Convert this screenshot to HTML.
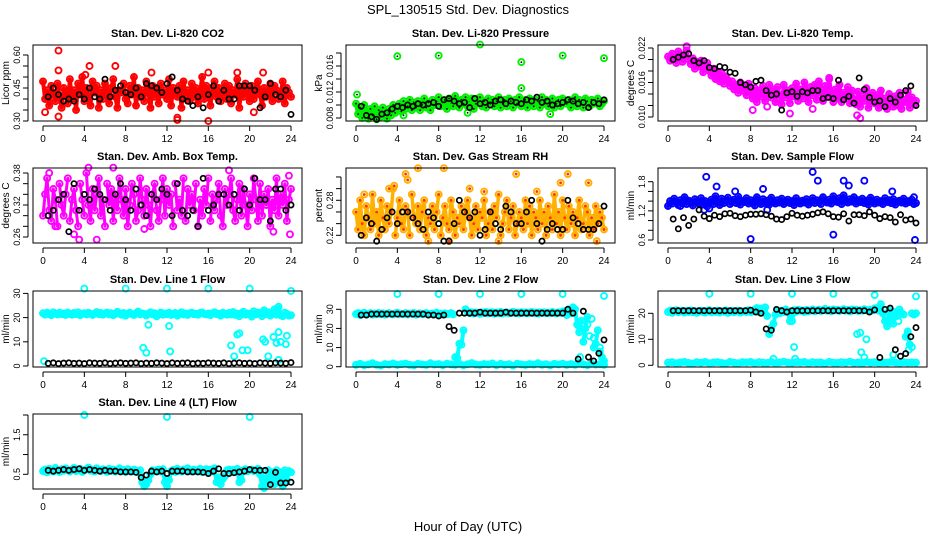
<!DOCTYPE html>
<html><head><meta charset="utf-8"><style>
html,body{margin:0;padding:0;background:#fff;}
svg{display:block;font-family:"Liberation Sans",sans-serif;}
</style></head><body>
<svg id="chart" width="936" height="540" viewBox="0 0 936 540" xmlns="http://www.w3.org/2000/svg">
<rect width="936" height="540" fill="#fff"/>
<text x="468" y="14" text-anchor="middle" font-size="13">SPL_130515  Std. Dev. Diagnostics</text>
<text x="468" y="531" text-anchor="middle" font-size="13">Hour of Day (UTC)</text>
</svg>
<script>
// ---------- data ----------
const xTicks = [0,4,8,12,16,20,24];

const co2Red = [48,40,44,37,46,42,39,47,41,36,45,43,38,49,40,44,35,47,42,50,39,45,41,37,48,43,46,36,44,40,47,42,38,45,49,41,36,44,43,47,40,38,46,42,50,37,45,41,44,39,48,43,36,46,41,45,38,47,42,44,40,49,37,45,43,41,46,36,48,42,44,39,47,41,45,38,43,50,40,46,42,37,44,48,41,45,39,43,47,40,46,38,44,42,49,36,45,41,47,43,39,46,40,44,48,42,37,45,41,43,47,39,46,44,40,42,48,38,45,43,41];
const co2RedExtraX = [1.5,1.5,4.5,0.2,1.5,13,13,16,21.3,18.8,16,7,4.1,10.5,20.4];
const co2RedExtraY = [62,53,55,34,32,30.5,31.5,30,52,52,52,55,51,52,34];
const co2Black = [41,45,42,39,40,39,42,40,45,41,40,49,41,44,46,43,42,45,41,47,46,45,43,47,50,44,40,39,37,41,36,42,46,39,44,40,40,46,46,46,44,36,41,47,42,41,44,33];

const presGreen = [10.2,8.6,9.6,8,10,8.8,7.9,9.4,8.4,9.8,7.8,9.2,8.2,9.6,8.6,7.9,9.4,8.4,10,8.8,9.4,10.2,9,10.6,9.4,9.8,10.8,9.2,10.4,9.6,10.6,9.2,10,11,9.6,10.4,9.2,10.8,10,10.6,11.2,9.8,10.4,10.8,9.4,11,10.2,9.8,11.4,10.6,9.6,10.8,10.2,11.2,9.8,10.6,11,9.4,10.2,10.8,11.2,9.8,10.6,9.6,11,10.2,10.8,9.8,10.6,11.2,9.6,10.2,10.8,9.8,11,10.6,9.6,10.8,10.2,11.2,9.8,10.6,10.8,9.6,11,10.2,9.8,10.8,10.6,9.6,11.2,10.2,10.8,9.8,10.6,11,9.6,10.2,10.8,9.8,11,10.6,10.2,10.8,9.6,10.6,11.2,9.8,10.8,10.2,9.6,11,10.6,9.8,10.8,10.2,10.6,11,9.8,10.2,10.6];
const presGreenExtraX = [4,8,12,16,20,24,0.1,16,4.6,10.8,18.8];
const presGreenExtraY = [17.5,17.6,19.3,16.6,17.6,17.2,11.6,12.6,8.4,8.8,8.6];
const presBlack = [9.8,8.4,8.2,7.8,8.6,8.8,9.4,9.8,9.6,10,9.8,10.2,10,10.2,10.4,9.8,10.8,11,10.6,10.2,10.4,9.6,11,10.2,10.4,10,10.6,10.8,10.2,10.6,10.4,10.2,10.8,10.6,11.2,10.4,10.6,10,10.2,10.4,10.8,10.6,10.2,10.4,9.6,10.4,10.2,10.8];

const tempMag = [20.5,19.8,21,20.2,19.4,21.4,20.6,19.6,20.8,21.6,20,19.2,20.2,18.4,19.6,18.8,19.8,17.8,18.6,19.4,18,17.2,18.4,16.6,17.8,16.2,17.6,15.8,17,16.4,15.4,16.2,14.8,15.6,14.2,16,14.6,15.2,13.8,15.8,14.4,13.2,15,12.6,14.6,13.6,15.4,12.8,14.2,15.6,13.4,14.8,12.6,15.2,13.8,12.2,15.6,13.4,14.6,12.4,15,13.6,15.8,12.8,14.8,13.2,16,14.2,12.6,15.2,13.8,15.6,13,16.2,14.2,12.8,15.4,13.6,16.6,14,12.6,14.8,13.2,15.6,12.6,14.2,13.6,15.2,12.4,14.6,13,12.2,14.4,11.8,13.6,12.8,15,11.6,13.2,14.2,12.4,13.8,11.6,14.6,12.4,13.2,11.4,14,12.8,11.8,13.6,12,14.2,11.4,13,12.6,14.4,11.6,13.4,12.2,12.8];
const tempMagExtraX = [1.8,15.6,18.3,18.6,8.2,9.6,14,11.8];
const tempMagExtraY = [22.3,16.8,10.3,9.8,11.2,11.8,11.4,10.6];
const tempBlack = [20,20.4,20.8,21,19.8,19.4,19.8,18.6,18.4,18.8,18.6,17.8,17.6,16,15.6,15.2,16.2,16.4,14.6,13.8,14,11.2,14.2,14.4,13.6,14.4,14.2,14.6,14.6,13.2,13.4,13.2,16.4,13,13.6,12.4,16.8,14.8,13.4,12.6,12.8,11.8,13.2,12.6,13.8,14.6,15.4,12];

const ambMag = [30,34,37,31,29,35,33,28,36,32,30,34,37,29,33,35,31,28,36,33,30,38,32,29,35,31,34,37,30,33,28,36,32,35,29,34,31,37,33,30,35,28,32,36,34,29,31,37,33,30,35,32,28,34,36,31,29,33,37,30,35,32,34,28,36,31,33,30,37,29,35,32,34,31,36,28,33,30,35,32,37,29,34,31,33,36,30,28,35,32,34,37,31,29,33,36,30,35,32,28,34,31,37,33,29,36,30,34,32,35,28,33,31,37,30,34,32,36,29,33,35];
const ambMagExtraX = [0.6,3,3.5,4.4,6.8,5.2,18,23.8,23.9,22.3,1.2,9.8];
const ambMagExtraY = [38,26.5,25.5,39,39,25.5,38.5,37.5,26.5,27,28,27.5];
const ambBlack = [30,31,33,34,27,36,31,34,33,35,34,33,31,34,36,33,31,35,32,30,34,33,35,34,30,36,31,30,31,28,37,31,32,34,34,32,34,31,35,32,37,33,33,29,35,35,31,32];

const rhOrange = [26,23,28,24,22,27,25,23,29,24,26,22,28,25,23,27,24,26,30,22,25,28,24,23,27,26,22,29,25,24,27,23,26,28,22,25,24,27,23,26,29,22,25,27,24,23,28,26,22,25,24,27,23,26,28,25,22,24,27,23,26,25,28,22,24,26,23,27,25,29,22,24,26,28,23,25,27,22,24,26,25,23,28,24,27,22,26,25,23,28,24,26,22,27,25,23,29,24,26,22,28,25,23,27,24,26,22,25,28,23,24,27,26,22,25,23,27,24,26,25,23];
const rhOrangeExtraX = [0.8,3.7,4.8,5,6,8.5,11,12.4,15.5,20.5,22.5,19.8,7,9,13.8,23.3,3.2,17.5];
const rhOrangeExtraY = [29,30.5,32.5,31.5,33.5,33.5,30,29.5,32.5,32.5,31,31,21,21,21,21,30,29.5];
const rhBlack = [22,25,24,21,23,25,26,24,26,26,25,24,23,26,25,24,21,21,24,28,26,25,26,22,23,26,24,23,27,26,24,24,26,28,24,21,23,24,23,23,28,25,24,23,23,23,24,27];

const flowBlue = [130,140,135,145,138,132,142,136,148,134,141,137,131,144,139,135,146,133,140,129,137,143,134,150,138,132,145,136,141,147,134,139,143,136,149,133,140,138,146,135,142,137,131,148,139,134,144,136,141,133,147,138,135,142,137,145,134,139,143,136,140,132,146,138,135,141,137,144,133,139,146,136,142,138,134,148,140,137,143,135,150,141,138,146,134,152,140,137,144,139,148,135,142,138,145,136,141,133,147,139,135,143,137,140,134,146,138,142,136,144,133,139,141,137,145,135,140,138,143,134,136];
const flowBlueExtraX = [3.7,4.7,6.5,8,9.2,14,14.5,16,17,17.5,19,21.7,23.9,3.5,4,1.2,9.6,23.8];
const flowBlueExtraY = [190,170,160,62,165,200,182,71,182,172,182,160,60,122,125,130,122,148];
const flowBlack = [103,83,106,90,103,122,109,104,111,108,114,115,110,108,111,113,113,114,112,109,103,102,108,115,111,109,111,113,116,118,114,108,107,114,99,112,112,110,118,111,104,108,106,97,112,101,103,95];

const line1Cyan = [21.8,21.2,22,21.5,21,22.2,21.6,21.3,22,21.4,21.7,21.1,22.1,21.5,21.2,21.9,21.4,22.2,21,21.6,21.8,21.3,22,21.5,21.1,21.7,22.3,21.4,21.9,21.2,21.6,22.1,21.3,21.8,21,21.5,22.4,21.7,21.2,21.9,20.8,21.6,22,21.4,21.1,21.8,22.5,21.3,21.7,21.5,20.9,21.6,22.2,21.3,21.8,20.5,21.5,22.1,21.2,21.7,21.4,22,21.1,21.6,21.9,20.8,21.5,22.2,21.3,21.7,21.1,21.8,22,21.4,21.6,21.2,21.9,22.1,21.5,21.3,21.7,21,21.8,22.2,21.4,21.6,20.8,22,21.5,21.2,21.9,21.3,22.3,21.1,21.6,20.6,21.8,22.4,21.2,21.7,21.5,20.4,22.6,21.3,22,21.8,20.6,23,21.4,22.2,20.8,21.6,23.4,21.2,24.5,21,20.6,22,21.5,20.8,21];
const line1CyanExtraX = [4,8,12,16,20,24,9.7,10,10.2,12.2,12.3,18.2,18.8,19,19.3,19.8,21.3,21.5,22.3,22.6,22.8,23,23.5,23.6,0.1,18.5,21.8,22.8];
const line1CyanExtraY = [32,32,32,32,32,31,7.5,5.5,17,16.5,6,8.5,13,13.5,6.5,6.5,11,10,12,9.5,14,10,9,12.5,2,4,4,2.5];
const line1Black = [1.1,1.3,1,1.2,1.3,1.1,1.2,1,1.3,1.2,1.1,1.3,1,1.2,1.3,1.1,1.2,1.3,1,1.2,1.1,1.3,1.2,1,1.3,1.1,1.2,1.3,1,1.2,1.1,1.3,1.2,1.1,1.3,1,1.2,1.3,1.1,1.2,1,1.3,1.2,1.1,1.3,1.2,1.1,1.4];

const line2Cyan = [27.5,28,27,27.8,28.2,27.3,27.6,28,27.2,27.8,27.5,28.1,27.4,27.9,27.2,27.7,28,27.5,27.3,27.9,28.2,27.4,27.7,27.5,28,27.3,27.8,27.6,28.1,27.2,27.5,27.9,27.4,27.7,28,27.3,27.6,27.8,27.5,28.2,27.4,27.7,27.3,27.9,27.5,27.6,28,27.4,5,4.5,12,11.5,19,30,28.5,28,28.5,27.8,28.3,28.1,27.6,28.4,28,28.6,27.9,28.2,28.5,27.7,28.3,28,28.6,27.8,28.1,28.4,27.9,28.2,28.7,28,28.3,27.8,28.5,28.1,28.4,27.9,28.2,28.6,28,28.3,27.7,28.5,28.1,28.4,27.9,28.2,28,28.6,28.3,27.8,28.4,28.1,28.9,29,27,30,28,31,30,22,18,24,13,20,26,16,25,10,12,19,8,5,3];
const line2CyanLow = [1,1.5,0.8,1.2,1.8,1,0.6,1.4,1.1,1.7,0.9,1.3,1.6,1,0.7,1.5,1.2,0.9,1.8,1.1,1.4,0.8,1.6,1.2,1,1.5,0.7,1.3,1.9,1.1,0.9,1.4,1.2,1.7,0.8,1.5,1,1.3,0.6,1.6,1.2,0.9,1.4,1.1,1.8,1,1.3,0.7,1.5,1.2,1.6,0.9,1.4,1,1.7,1.2,0.8,1.5,1.1,1.3,1];
const line2CyanExtraX = [4,8,12,16,20,24,21.7,23,22.4,23.6];
const line2CyanExtraY = [38,38,38,38,38,37,5,15,22,10];
const line2Black = [27,27,27.5,27.5,27.5,27.5,27.5,27.5,27.5,27.5,27.5,27.5,27.5,27,27,26.5,27,21,19,28,28,28,28,28.5,28,28,28,28,28.5,28,28,28,28,28,28,28,28,28,28,28,30,28,4,29,5,3,7,14];

const line3Cyan = [20.5,21,20.2,20.8,21.2,20.4,20.7,21,20.3,20.9,20.5,21.1,20.4,20.8,20.2,20.7,21,20.5,20.3,20.9,21.2,20.4,20.7,20.5,21,20.3,20.8,20.6,21.1,20.2,20.5,20.9,20.4,20.7,21,20.3,20.6,20.8,20.5,21.2,20.4,20.7,21.5,22,20.5,21.8,20.6,22.3,19,12,14.5,16,19.5,21,20,21,20.5,21.5,20.8,17,19.5,21.2,20.6,21.4,20.9,21.1,20.5,21.3,20.7,21,21.5,20.8,21.1,21.4,20.9,21.2,21.7,21,21.3,20.8,21.5,21.1,21.4,20.9,21.2,21.6,21,21.3,20.7,21.5,21.1,21.4,20.9,21.2,21,21.6,21.3,20.8,21.4,21.1,21.9,22,21,23.5,20,17,15,21,18,16,20.5,19,21.5,20,19.5,11,13,8,20,19.5,20];
const line3CyanLow = [1,1.2,0.8,1.1,1.3,0.9,0.7,1.2,1,1.3,0.8,1.1,1.2,0.9,0.7,1.3,1,0.8,1.2,1.1,1.3,0.8,1.2,1,0.9,1.3,0.7,1.1,1.4,1,0.9,1.2,1.1,1.3,0.8,1.2,1,1.1,0.7,1.3,1,0.9,1.2,1,1.4,0.9,1.1,0.7,1.3,1,1.2,0.9,1.1,1,1.3,1.1,0.8,1.2,1,1.1,1];
const line3CyanExtraX = [4,8,12,16,20,24,12.2,12.3,18.3,18.6,18.7,19,19.2,21.8,22.3,23.3,23.6,12,10.2];
const line3CyanExtraY = [27.5,27.5,27.5,27.5,27,26.5,7,2.5,12,12.5,5,3,10,4,17,6,7,17,2.5];
const line3Black = [21,21,21,21,21,21,21,21,21,21,21,21,21,21,21,21.2,20.5,20,14,13.5,21.5,21,20.5,21,21,21,21,21,21,21,21,21,21,21,21,21,21,21,20.5,21.3,3,21.5,22,6,3.5,4.5,11,14.5];

const line4Cyan = [0.58,0.62,0.55,0.64,0.6,0.57,0.66,0.61,0.56,0.63,0.59,0.65,0.6,0.57,0.62,0.66,0.58,0.61,0.64,0.56,0.6,0.63,0.67,0.59,0.62,0.57,0.65,0.6,0.58,0.63,0.61,0.56,0.64,0.59,0.62,0.57,0.6,0.65,0.58,0.61,0.56,0.63,0.6,0.57,0.62,0.59,0.55,0.6,0.3,0.2,0.25,0.35,0.5,0.6,0.58,0.6,0.62,0.57,0.63,0.3,0.2,0.35,0.58,0.61,0.56,0.64,0.6,0.57,0.62,0.59,0.65,0.6,0.57,0.62,0.58,0.61,0.64,0.56,0.6,0.63,0.58,0.62,0.57,0.65,0.3,0.42,0.25,0.38,0.45,0.6,0.62,0.58,0.61,0.56,0.64,0.3,0.35,0.6,0.63,0.58,0.6,0.62,0.58,0.6,0.64,0.5,0.2,0.15,0.4,0.6,0.3,0.55,0.25,0.6,0.3,0.55,0.2,0.6,0.35,0.58,0.55];
const line4CyanExtraX = [4,12,20];
const line4CyanExtraY = [2.0,1.95,1.95];
const line4Black = [0.6,0.58,0.6,0.62,0.6,0.62,0.64,0.6,0.62,0.6,0.58,0.6,0.58,0.58,0.56,0.56,0.56,0.55,0.42,0.48,0.58,0.56,0.58,0.52,0.58,0.58,0.58,0.56,0.56,0.56,0.55,0.52,0.58,0.64,0.52,0.52,0.54,0.56,0.58,0.62,0.6,0.6,0.6,0.24,0.55,0.28,0.28,0.3];

// ---------- layout (positions / styles only) ----------
const colLeft = [33, 346, 658];
const rowTop = [45, 168, 291, 414];
const rowBot = [121, 243, 367, 489];
const boxW = 269;

const panels = [
 {id:'co2', c:0,r:0, title:'Stan. Dev. Li-820 CO2', ylab:'Licor ppm', v0:0.30,p0:121,v1:0.60,p1:55, scale:0.01,
  ticks:[0.30,0.35,0.40,0.45,0.50,0.55,0.60], labels:['0.30','0.45','0.60'], color:'#ff0000', fillW:4, jump:30,
  main:[co2Red], ex:[co2RedExtraX,co2RedExtraY], black:co2Black},
 {id:'pressure', c:1,r:0, title:'Stan. Dev. Li-820 Pressure', ylab:'kPa', v0:0.008,p0:118,v1:0.016,p1:66, scale:0.001,
  ticks:[0.008,0.010,0.012,0.014,0.016,0.018], labels:['0.008','0.012','0.016'], color:'#00ee00', dots:true, fillW:4, jump:16,
  main:[presGreen], ex:[presGreenExtraX,presGreenExtraY], black:presBlack},
 {id:'temp', c:2,r:0, title:'Stan. Dev. Li-820 Temp.', ylab:'degrees C', v0:0.010,p0:117,v1:0.022,p1:48, scale:0.001,
  ticks:[0.010,0.012,0.014,0.016,0.018,0.020,0.022], labels:['0.010','0.016','0.022'], color:'#ff00ff', fillW:4, jump:20,
  main:[tempMag], ex:[tempMagExtraX,tempMagExtraY], black:tempBlack},
 {id:'amb-temp', c:0,r:1, title:'Stan. Dev. Amb. Box Temp.', ylab:'degrees C', v0:0.26,p0:237,v1:0.38,p1:173, scale:0.01,
  ticks:[0.26,0.28,0.30,0.32,0.34,0.36,0.38], labels:['0.26','0.32','0.38'], color:'#ff00ff', fillW:3, jump:40,
  main:[ambMag], ex:[ambMagExtraX,ambMagExtraY], black:ambBlack},
 {id:'rh', c:1,r:1, title:'Stan. Dev. Gas Stream RH', ylab:'percent', v0:0.22,p0:235.3,v1:0.28,p1:200.3, scale:0.01,
  ticks:[0.22,0.24,0.26,0.28,0.30,0.32], labels:['0.22','0.28'], color:'#ffb000', rh:true, fillW:3.5, jump:40,
  main:[rhOrange], ex:[rhOrangeExtraX,rhOrangeExtraY], black:rhBlack},
 {id:'sample-flow', c:2,r:1, title:'Stan. Dev. Sample Flow', ylab:'ml/min', v0:0.6,p0:240,v1:1.8,p1:181.7, scale:0.01,
  ticks:[0.6,0.8,1.0,1.2,1.4,1.6,1.8], labels:['0.6','1.2','1.8'], color:'#0000ff', fillW:4, jump:16,
  main:[flowBlue], ex:[flowBlueExtraX,flowBlueExtraY], black:flowBlack},
 {id:'line1-flow', c:0,r:2, title:'Stan. Dev. Line 1 Flow', ylab:'ml/min', v0:0,p0:366,v1:30,p1:293.4, scale:1,
  ticks:[0,10,20,30], labels:['0','10','20','30'], color:'#00ffff', fillW:4, jump:16,
  main:[line1Cyan], ex:[line1CyanExtraX,line1CyanExtraY], black:line1Black},
 {id:'line2-flow', c:1,r:2, title:'Stan. Dev. Line 2 Flow', ylab:'ml/min', v0:0,p0:366.7,v1:30,p1:309.3, scale:1,
  ticks:[0,10,20,30], labels:['0','10','20','30'], color:'#00ffff', fillW:4, jump:16,
  main:[line2Cyan,line2CyanLow], ex:[line2CyanExtraX,line2CyanExtraY], black:line2Black},
 {id:'line3-flow', c:2,r:2, title:'Stan. Dev. Line 3 Flow', ylab:'ml/min', v0:0,p0:365.3,v1:20,p1:313.3, scale:1,
  ticks:[0,10,20], labels:['0','10','20'], color:'#00ffff', fillW:4, jump:16,
  main:[line3Cyan,line3CyanLow], ex:[line3CyanExtraX,line3CyanExtraY], black:line3Black},
 {id:'line4-flow', c:0,r:3, title:'Stan. Dev. Line 4 (LT) Flow', ylab:'ml/min', v0:0.5,p0:474.3,v1:2.0,p1:415, scale:1,
  ticks:[0.5,1.0,1.5,2.0], labels:['0.5','1.5'], color:'#00ffff', fillW:4, jump:16,
  main:[line4Cyan], ex:[line4CyanExtraX,line4CyanExtraY], black:line4Black}
];

// ---------- render ----------
const NS = 'http://www.w3.org/2000/svg';
const svg = document.getElementById('chart');
function mk(tag, attrs, parent){
  const e = document.createElementNS(NS, tag);
  for (const k in attrs) e.setAttribute(k, attrs[k]);
  parent.appendChild(e);
  return e;
}

panels.forEach(p => {
  const L = colLeft[p.c], T = rowTop[p.r], B = rowBot[p.r], R = L + boxW;
  const x0 = L + 10, x24 = L + 258;
  const xs = h => x0 + (h / 24) * (x24 - x0);
  const ys = v => p.p0 + (v - p.v0) * (p.p1 - p.p0) / (p.v1 - p.v0);

  const g = mk('g', {}, svg);
  
  

  const t = mk('text', {x:(L+R)/2, y:T-8, 'text-anchor':'middle', 'font-size':'11', 'font-weight':'bold'}, g);
  t.textContent = p.title;
  
  

  const yl = mk('text', {x:0, y:0, 'text-anchor':'middle', 'font-size':'10', transform:'translate('+(L-24)+','+((T+B)/2)+') rotate(-90)'}, g);
  yl.textContent = p.ylab;
  
  

  // x axis
  const xa = mk('g', {}, g);
  
  
  mk('line', {x1:xs(xTicks[0]), x2:xs(xTicks[xTicks.length-1]), y1:B+5, y2:B+5, stroke:'#000', 'stroke-width':1}, xa);
  xTicks.forEach(h => {
    mk('line', {x1:xs(h), x2:xs(h), y1:B+5, y2:B+10, stroke:'#000', 'stroke-width':1}, xa);
    const tl = mk('text', {x:xs(h), y:B+21, 'text-anchor':'middle', 'font-size':'10'}, xa);
    tl.textContent = String(h);
    
    
  });

  // y axis
  const ya = mk('g', {}, g);
  
  
  const tv = p.ticks.filter(v => ys(v) >= T-1 && ys(v) <= B+1);
  mk('line', {x1:L-5, x2:L-5, y1:ys(tv[0]), y2:ys(tv[tv.length-1]), stroke:'#000', 'stroke-width':1}, ya);
  tv.forEach(v => mk('line', {x1:L-10, x2:L-5, y1:ys(v), y2:ys(v), stroke:'#000', 'stroke-width':1}, ya));
  p.labels.forEach(s => {
    const v = parseFloat(s);
    const tl = mk('text', {x:0, y:0, 'text-anchor':'middle', 'font-size':'9', transform:'translate('+(L-13)+','+ys(v)+') rotate(-90)'}, ya);
    tl.textContent = s;
    
    
  });

  // points
  const pts = mk('g', {}, g);
  
  

  // dense band fill: connect neighbouring main-series values (skip big jumps)
  p.main.forEach(arr => {
    let d = '';
    let prev = null;
    arr.forEach((val, i) => {
      const px = xs(i * 24 / (arr.length - 1)), py = ys(val * p.scale);
      if (prev && Math.abs(py - prev[1]) < p.jump) d += 'L' + px.toFixed(1) + ' ' + py.toFixed(1);
      else d += 'M' + px.toFixed(1) + ' ' + py.toFixed(1);
      prev = [px, py];
    });
    const band = mk('path', {d:d, fill:'none', stroke:p.color, 'stroke-width':p.fillW, 'stroke-linejoin':'round', 'stroke-linecap':'round'}, pts);
    
    
  });

  function colored(h, v){
    const c = mk('circle', {cx:xs(h), cy:ys(v), r:3, fill:'none', stroke:p.color, 'stroke-width':1.9}, pts);
    
    
    if (p.dots) mk('circle', {cx:xs(h), cy:ys(v), r:0.9, fill:'#000'}, pts);
    if (p.rh) mk('circle', {cx:xs(h), cy:ys(v), r:1.4, fill:'#ff3300'}, pts);
  }
  p.main.forEach(arr => {
    arr.forEach((val, i) => colored(i * 24 / (arr.length - 1), val * p.scale));
  });
  p.ex[0].forEach((h, i) => colored(h, p.ex[1][i] * p.scale));
  p.black.forEach((val, i) => {
    const h = 0.5 + i * 23.5 / (p.black.length - 1);
    const c = mk('circle', {cx:xs(h), cy:ys(val * p.scale), r:2.6, fill:'none', stroke:'#000', 'stroke-width':1.7}, pts);
    
    
  });

  const box = mk('rect', {x:L, y:T, width:boxW, height:B-T, fill:'none', stroke:'#000', 'stroke-width':1}, g);
  
  
});
</script>
</body></html>
